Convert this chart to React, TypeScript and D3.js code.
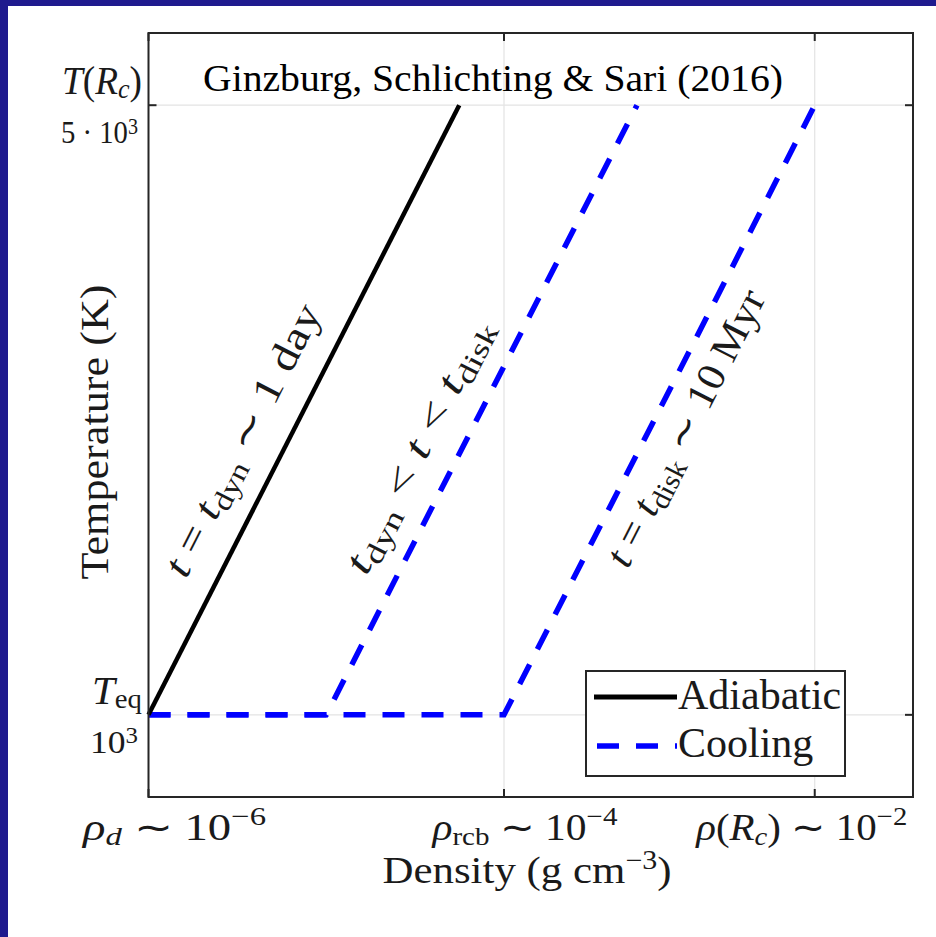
import React from "react";
import * as d3 from "d3";

// ---- data ----
const densityTicks = [1e-6, 1e-4, 5.6e-3];
const temperatureTicks = [1e3, 5e3];

const adiabaticRho = [1e-6, 5.6e-5];
const adiabaticT = [1e3, 5e3];

const coolingMidRho = [1e-6, 1e-5, 5.6e-4];
const coolingMidT = [1e3, 1e3, 5e3];

const coolingDiskRho = [1e-6, 1e-4, 5.6e-3];
const coolingDiskT = [1e3, 1e3, 5e3];

type Seg = [string, string];

const xTickLabels: Seg[][] = [
  [["ρ", "i"], ["d", "isub"], [" ∼ 10", "n"], ["−6", "sup"]],
  [["ρ", "i"], ["rcb", "sub"], [" ∼ 10", "n"], ["−4", "sup"]],
  [["ρ", "i"], ["(", "n"], ["R", "i"], ["c", "isub"], [") ∼ 10", "n"], ["−2", "sup"]],
];

const yTickLabels: Seg[][][] = [
  [
    [["T", "i"], ["eq", "sub"]],
    [["10", "n"], ["3", "sup"]],
  ],
  [
    [["T", "i"], ["(", "n"], ["R", "i"], ["c", "isub"], [")", "n"]],
    [["5 · 10", "n"], ["3", "sup"]],
  ],
];

const regimeLabels: Seg[][] = [
  [["t", "i"], [" = ", "n"], ["t", "i"], ["dyn", "sub"], [" ∼ 1 day", "n"]],
  [["t", "i"], ["dyn", "sub"], [" < ", "n"], ["t", "i"], [" < ", "n"], ["t", "i"], ["disk", "sub"]],
  [["t", "i"], [" = ", "n"], ["t", "i"], ["disk", "sub"], [" ∼ 10 Myr", "n"]],
];

const xAxisTitle: Seg[] = [["Density (g cm", "n"], ["−3", "sup"], [")", "n"]];
const yAxisTitle = "Temperature (K)";
const titleText = "Ginzburg, Schlichting & Sari (2016)";
const legendNames = ["Adiabatic", "Cooling"];

// ---- layout ----
const W = 936;
const H = 937;
const left = 148.5;
const right = 913;
const top = 33;
const bottom = 797;

const FONT = "'Liberation Serif', 'Times New Roman', serif";
const INK = "#1a1a1a";
const AXIS = "#262626";
const GRID = "#e3e3e3";
const BLUE = "#0000ff";

const x = d3.scaleLog().domain([1e-6, 2e-2]).range([left, right]);
const y = d3.scaleLog().domain([805, 6050]).range([bottom, top]);

const line = d3
  .line<[number, number]>()
  .x((d) => x(d[0]))
  .y((d) => y(d[1]));

const zip = (a: number[], b: number[]) => a.map((v, i) => [v, b[i]] as [number, number]);

function Rich({ segs, size, sub = 0.17, sup = 0.4 }: { segs: Seg[]; size: number; sub?: number; sup?: number }) {
  let shift = 0;
  return (
    <>
      {segs.map(([t, k], i) => {
        const isSub = k === "sub" || k === "isub";
        const isSup = k === "sup";
        const target = isSub ? sub * size : isSup ? -sup * size : 0;
        const dy = target - shift;
        shift = target;
        return (
          <tspan
            key={i}
            dy={dy}
            fontStyle={k === "i" || k === "isub" ? "italic" : "normal"}
            fontSize={isSub || isSup ? size * 0.7 : size}
            style={{ whiteSpace: "pre" }}
          >
            {t}
          </tspan>
        );
      })}
    </>
  );
}

export default function App() {
  const slopeAngle =
    (Math.atan2(y(adiabaticT[0]) - y(adiabaticT[1]), x(adiabaticRho[1]) - x(adiabaticRho[0])) * 180) /
    Math.PI;

  const tickLen = 8;
  const xLabelCenters = [26, 21, -13];
  const xLabelWidths = [183, 185, 211];
  // widths of the two-line temperature labels: [symbol, value]
  const yLabelWidths = [
    [50, 48],
    [80, 77],
  ];
  const regimeAnchors: [number, number][] = [
    [254, 446],
    [430, 452],
    [697, 434],
  ];
  const regimeWidths = [300, 280, 305];

  return (
    <svg
      width={W}
      height={H}
      style={{ position: "absolute", left: 0, top: 0, display: "block" }}
      fontFamily={FONT}
    >
      <rect x={0} y={0} width={W} height={H} fill="#ffffff" />
      <rect x={0} y={0} width={W} height={6} fill="#1f1a8e" />
      <rect x={0} y={0} width={8} height={H} fill="#1f1a8e" />

      {/* grid */}
      <g stroke={GRID} strokeWidth={1.2}>
        {densityTicks.map((d, i) => (
          <line key={"gx" + i} x1={x(d)} x2={x(d)} y1={top} y2={bottom} />
        ))}
        {temperatureTicks.map((t, i) => (
          <line key={"gy" + i} x1={left} x2={right} y1={y(t)} y2={y(t)} />
        ))}
      </g>

      {/* inward ticks on all four sides */}
      <g stroke={AXIS} strokeWidth={2}>
        {densityTicks.map((d, i) => (
          <g key={"tx" + i}>
            <line x1={x(d)} x2={x(d)} y1={bottom} y2={bottom - tickLen} />
            <line x1={x(d)} x2={x(d)} y1={top} y2={top + tickLen} />
          </g>
        ))}
        {temperatureTicks.map((t, i) => (
          <g key={"ty" + i}>
            <line x1={left} x2={left + tickLen} y1={y(t)} y2={y(t)} />
            <line x1={right} x2={right - tickLen} y1={y(t)} y2={y(t)} />
          </g>
        ))}
      </g>

      {/* curves */}
      <path
        d={line(zip(coolingDiskRho, coolingDiskT)) || ""}
        fill="none"
        stroke={BLUE}
        strokeWidth={5.5}
        strokeDasharray="22 17"
      />
      <path
        d={line(zip(coolingMidRho, coolingMidT)) || ""}
        fill="none"
        stroke={BLUE}
        strokeWidth={5.5}
        strokeDasharray="22 17"
      />
      <path
        d={line(zip(adiabaticRho, adiabaticT)) || ""}
        fill="none"
        stroke="#000"
        strokeWidth={4.5}
      />

      {/* axes box */}
      <rect
        x={left}
        y={top}
        width={right - left}
        height={bottom - top}
        fill="none"
        stroke={AXIS}
        strokeWidth={2}
      />

      {/* title */}
      <text
        x={493}
        y={91}
        textAnchor="middle"
        fontSize={38}
        fill="#000"
        textLength={580}
        lengthAdjust="spacingAndGlyphs"
      >
        {titleText}
      </text>

      {/* x tick labels */}
      {densityTicks.map((d, i) => (
        <text
          key={"xl" + i}
          x={x(d) + xLabelCenters[i] - xLabelWidths[i] / 2}
          y={840}
          fontSize={37}
          fill={INK}
          textLength={xLabelWidths[i]}
          lengthAdjust="spacingAndGlyphs"
        >
          <Rich segs={xTickLabels[i]} size={37} sub={0.13} />
        </text>
      ))}

      {/* y tick labels */}
      {temperatureTicks.map((t, i) => (
        <g key={"yl" + i}>
          <text
            x={142 - yLabelWidths[i][0]}
            y={y(t) - 11}
            fontSize={39}
            fill={INK}
            textLength={yLabelWidths[i][0]}
            lengthAdjust="spacingAndGlyphs"
          >
            <Rich segs={yTickLabels[i][0]} size={39} sub={0.1} />
          </text>
          <text
            x={138 - yLabelWidths[i][1]}
            y={y(t) + 38}
            fontSize={32}
            fill={INK}
            textLength={yLabelWidths[i][1]}
            lengthAdjust="spacingAndGlyphs"
          >
            <Rich segs={yTickLabels[i][1]} size={32} sup={0.3} />
          </text>
        </g>
      ))}

      {/* axis titles */}
      <text
        x={527 - 289 / 2}
        y={883}
        fontSize={38}
        fill={INK}
        textLength={289}
        lengthAdjust="spacingAndGlyphs"
      >
        <Rich segs={xAxisTitle} size={38} sup={0.36} />
      </text>
      <text
        transform={`translate(108,432) rotate(-90)`}
        textAnchor="middle"
        fontSize={39}
        fill={INK}
        textLength={295}
        lengthAdjust="spacingAndGlyphs"
      >
        {yAxisTitle}
      </text>

      {/* regime labels along the curves */}
      {regimeLabels.map((segs, i) => (
        <text
          key={"rl" + i}
          transform={`translate(${regimeAnchors[i][0]},${regimeAnchors[i][1]}) rotate(${-slopeAngle})`}
          x={-regimeWidths[i] / 2}
          fontSize={40}
          fill={INK}
          textLength={regimeWidths[i]}
          lengthAdjust="spacingAndGlyphs"
        >
          <Rich segs={segs} size={40} />
        </text>
      ))}

      {/* legend */}
      <g>
        <rect x={586} y={671} width={259} height={105} fill="#fff" stroke={AXIS} strokeWidth={2} />
        <line x1={594} x2={677} y1={697} y2={697} stroke="#000" strokeWidth={5} />
        <text x={678} y={709} fontSize={42} fill={INK}>
          {legendNames[0]}
        </text>
        <line
          x1={597}
          x2={677}
          y1={746}
          y2={746}
          stroke={BLUE}
          strokeWidth={5.5}
          strokeDasharray="22 17"
        />
        <text x={678} y={757} fontSize={42} fill={INK}>
          {legendNames[1]}
        </text>
      </g>
    </svg>
  );
}
